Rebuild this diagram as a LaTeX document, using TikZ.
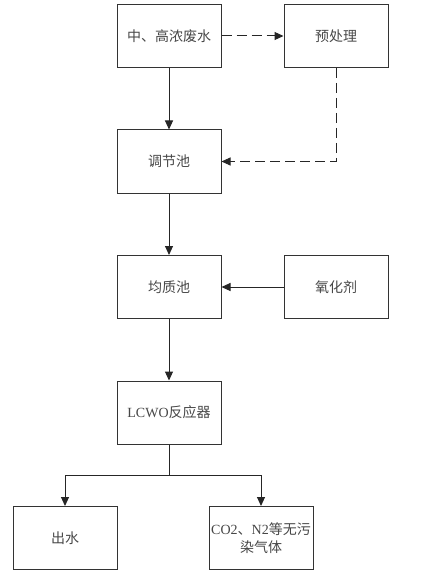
\documentclass[tikz,border=0pt]{standalone}
\usepackage{fontspec}
\newfontfamily\cjk{Noto Sans CJK SC}
\newfontfamily\lat{Liberation Serif}
\usetikzlibrary{arrows.meta}
\begin{document}
\begin{tikzpicture}[x=1pt,y=-1pt,
  box/.style={draw=black!80,line width=1pt,minimum width=104pt,minimum height=63pt,inner sep=0pt,align=center,font=\cjk\fontsize{14}{18}\selectfont,text=black!72},
  flow/.style={draw=black!85,line width=1pt,-{Triangle[length=9pt,width=8pt]}},
  dflow/.style={flow,dash pattern=on 10pt off 5pt}]
\useasboundingbox (0,0) rectangle (430,580);
\node[box] (src) at (169,36) {中、高浓废水};
\node[box] (pre) at (336,36) {预处理};
\node[box] (tj) at (169,161.5) {调节池};
\node[box] (jz) at (169,287) {均质池};
\node[box] (ox) at (336,287) {氧化剂};
\node[box] (lc) at (169,412.5) {{\lat LCWO}反应器};
\node[box] (out) at (65,538) {出水};
\node[box] (gas) at (261,538) {{\lat CO2}、{\lat N2}等无污\\染气体};
\coordinate (split) at (169,475);
\draw[dflow] (src) -- (pre);
\draw[dflow] (pre.south) |- (tj.east);
\draw[flow] (src) -- (tj);
\draw[flow] (tj) -- (jz);
\draw[flow] (ox) -- (jz);
\draw[flow] (jz) -- (lc);
\draw[draw=black!85,line width=1pt] (lc.south) -- (split);
\draw[flow] (split) -| (out.north);
\draw[flow] (split) -| (gas.north);
\end{tikzpicture}
\end{document}
